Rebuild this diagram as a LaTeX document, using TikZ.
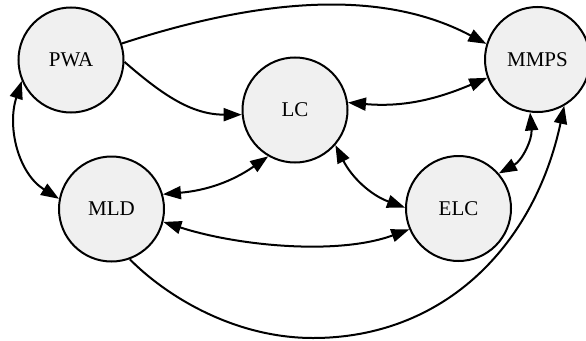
\documentclass[tikz,border=0pt]{standalone}
\usepackage{fontspec}
\setmainfont{Liberation Serif}
\usetikzlibrary{arrows.meta}
\begin{document}
\begin{tikzpicture}[x=1pt,y=1pt,
  state/.style={circle,draw=black,line width=2pt,fill=gray!12,minimum size=105pt,inner sep=0pt,
    font=\fontsize{21}{25}\selectfont},
  edge/.style={line width=2pt,-{Triangle[length=18pt,width=13pt]}},
  bi/.style={line width=2pt,{Triangle[length=18pt,width=13pt]}-{Triangle[length=18pt,width=13pt]}}]
\useasboundingbox (0,0) rectangle (586,-340);
\node[state] (PWA) at (71,-60) {PWA};
\node[state] (LC) at (295,-110) {LC};
\node[state] (MMPS) at (537.5,-59.5) {MMPS};
\node[state] (MLD) at (111.5,-209) {MLD};
\node[state] (ELC) at (458.5,-208.5) {ELC};
\coordinate (bot) at (313,-338);
\draw[edge] (PWA.18) to[out=18,in=152,looseness=0.9] (MMPS.163);
\draw[edge] (PWA.-2) to[out=-41,in=180] (LC.185);
\draw[bi] (PWA.203) to[out=252,in=148] (MLD.169);
\draw[bi] (LC.8) to[out=-5,in=203] (MMPS.200);
\draw[bi] (MLD.16) to[out=5,in=215] (LC.240);
\draw[bi] (LC.-41) to[out=-63,in=160] (ELC.179);
\draw[bi] (MLD.-14) to[out=-18,in=200,looseness=0.8] (ELC.203);
\draw[bi] (MMPS.262) to[out=-85,in=29] (ELC.41.5);
\draw[edge] (MLD.-70) .. controls (165,-295) and (233,-338) .. (bot) .. controls (443,-338) and (534,-247) .. (MMPS.-60);
\end{tikzpicture}
\end{document}
